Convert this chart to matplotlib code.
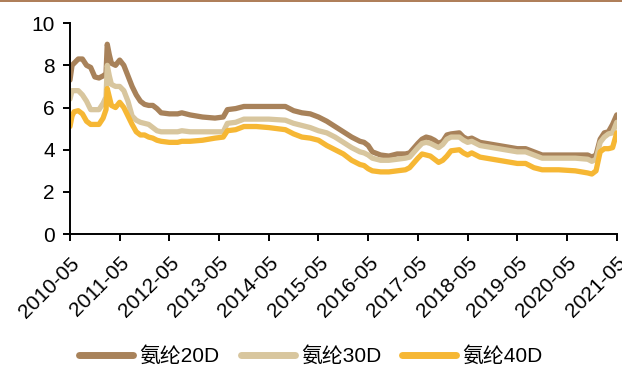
import matplotlib
matplotlib.use("Agg")
import matplotlib.pyplot as plt
import pandas as pd

plt.rcParams['font.family'] = ['Liberation Sans', 'Noto Sans CJK SC', 'DejaVu Sans']

# months since 2010-05 for each sample
months = [0, 0.5, 1, 2, 3, 4, 5, 6, 7, 8, 8.7, 9, 9.5, 10, 11, 12, 13, 14, 15, 16,
          17, 18, 19, 20, 21, 22, 24, 26, 27, 29, 32, 35, 37, 38, 40, 42, 45, 48, 52, 54,
          56, 58, 60, 62, 64, 66, 68, 70, 71, 72, 73, 75, 77, 79, 81, 82, 84, 85, 86, 87,
          88, 89, 90, 91, 92, 94, 95, 96, 97, 99, 102, 105, 108, 110, 112, 114, 118, 122, 125, 126,
          127, 128, 129, 130, 131, 132]

spandex_20d = [7.3, 8.0, 8.1, 8.3, 8.3, 8.0, 7.9, 7.45, 7.4, 7.5, 7.6, 9.0, 8.5, 8.1, 8.0, 8.25, 8.0, 7.5, 7.0, 6.6,
               6.3, 6.15, 6.1, 6.1, 5.95, 5.75, 5.7, 5.7, 5.75, 5.65, 5.55, 5.5, 5.55, 5.9, 5.95, 6.05, 6.05, 6.05, 6.05, 5.85,
               5.75, 5.7, 5.55, 5.35, 5.1, 4.85, 4.6, 4.4, 4.35, 4.2, 3.9, 3.75, 3.7, 3.8, 3.8, 3.85, 4.3, 4.5, 4.6, 4.55,
               4.45, 4.3, 4.4, 4.7, 4.75, 4.8, 4.6, 4.5, 4.55, 4.35, 4.25, 4.15, 4.05, 4.05, 3.9, 3.75, 3.75, 3.75, 3.75, 3.65,
               3.75, 4.5, 4.8, 4.85, 5.2, 5.65]

spandex_30d = [6.4, 6.8, 6.8, 6.8, 6.6, 6.3, 5.9, 5.9, 5.9, 6.2, 6.5, 8.0, 7.5, 7.1, 7.0, 7.0, 6.8, 6.3, 5.6, 5.4,
               5.3, 5.25, 5.2, 5.05, 4.9, 4.85, 4.85, 4.85, 4.9, 4.85, 4.85, 4.85, 4.85, 5.25, 5.3, 5.45, 5.45, 5.45, 5.4, 5.25,
               5.15, 5.05, 4.9, 4.8, 4.6, 4.35, 4.1, 3.9, 3.85, 3.75, 3.6, 3.5, 3.5, 3.55, 3.6, 3.65, 4.1, 4.3, 4.35, 4.3,
               4.2, 4.1, 4.25, 4.5, 4.6, 4.6, 4.45, 4.35, 4.4, 4.2, 4.1, 4.0, 3.9, 3.9, 3.75, 3.6, 3.6, 3.6, 3.55, 3.45,
               3.55, 4.35, 4.6, 4.75, 4.8, 5.3]

spandex_40d = [5.1, 5.6, 5.8, 5.85, 5.7, 5.35, 5.2, 5.2, 5.2, 5.5, 5.9, 6.9, 6.5, 6.1, 6.0, 6.25, 6.0, 5.6, 5.2, 4.85,
               4.7, 4.7, 4.6, 4.55, 4.45, 4.4, 4.35, 4.35, 4.4, 4.4, 4.45, 4.55, 4.6, 4.9, 4.95, 5.1, 5.1, 5.05, 4.95, 4.75,
               4.6, 4.55, 4.45, 4.2, 4.0, 3.8, 3.5, 3.3, 3.25, 3.1, 3.0, 2.95, 2.95, 3.0, 3.05, 3.15, 3.6, 3.8, 3.75, 3.7,
               3.55, 3.4, 3.5, 3.7, 3.95, 4.0, 3.85, 3.75, 3.85, 3.65, 3.55, 3.45, 3.35, 3.35, 3.15, 3.05, 3.05, 3.0, 2.9, 2.85,
               3.0, 3.9, 4.05, 4.05, 4.1, 4.8]

tick_labels = ['2010-05', '2011-05', '2012-05', '2013-05', '2014-05', '2015-05',
               '2016-05', '2017-05', '2018-05', '2019-05', '2020-05', '2021-05']

start = pd.Timestamp('2010-05-01')
dates = [start + pd.Timedelta(days=m * 30.44) for m in months]
tick_dates = [pd.Timestamp(t + '-01') for t in tick_labels]

fig = plt.figure(figsize=(6.22, 3.67), dpi=100)
ax = fig.add_axes([0.1125, 0.362, 0.879, 0.575])

ax.plot(dates, spandex_20d, color='#A8825A', lw=3.8, label='氨纶20D', solid_capstyle='round')
ax.plot(dates, spandex_30d, color='#D8C69E', lw=3.8, label='氨纶30D', solid_capstyle='round')
ax.plot(dates, spandex_40d, color='#F6B734', lw=3.8, label='氨纶40D', solid_capstyle='round')

ax.set_ylim(0, 10)
ax.set_yticks([0, 2, 4, 6, 8, 10])
ax.set_xlim(tick_dates[0], tick_dates[-1])
ax.set_xticks(tick_dates)
ax.set_xticklabels(tick_labels, rotation=45, ha='right', va='top', rotation_mode='anchor')

for side in ['top', 'right']:
    ax.spines[side].set_visible(False)
for side in ['left', 'bottom']:
    ax.spines[side].set_linewidth(1.4)
ax.tick_params(axis='both', direction='out', length=5, width=1.4, labelsize=15)
ax.tick_params(axis='y', pad=6)
ax.tick_params(axis='x', pad=9)

leg = fig.legend(loc='center', bbox_to_anchor=(0.5, 0.03), ncol=3, frameon=False,
                 fontsize=15, handlelength=2.6, columnspacing=1.0, handletextpad=0.3)
for h in leg.get_lines():
    h.set_linewidth(5)
    h.set_solid_capstyle('round')

# thin rule along the top edge
fig.add_artist(plt.Line2D([0, 1], [0.998, 0.998], color='#A0663A', lw=1.2, transform=fig.transFigure))

fig.savefig('out.png', dpi=100)
